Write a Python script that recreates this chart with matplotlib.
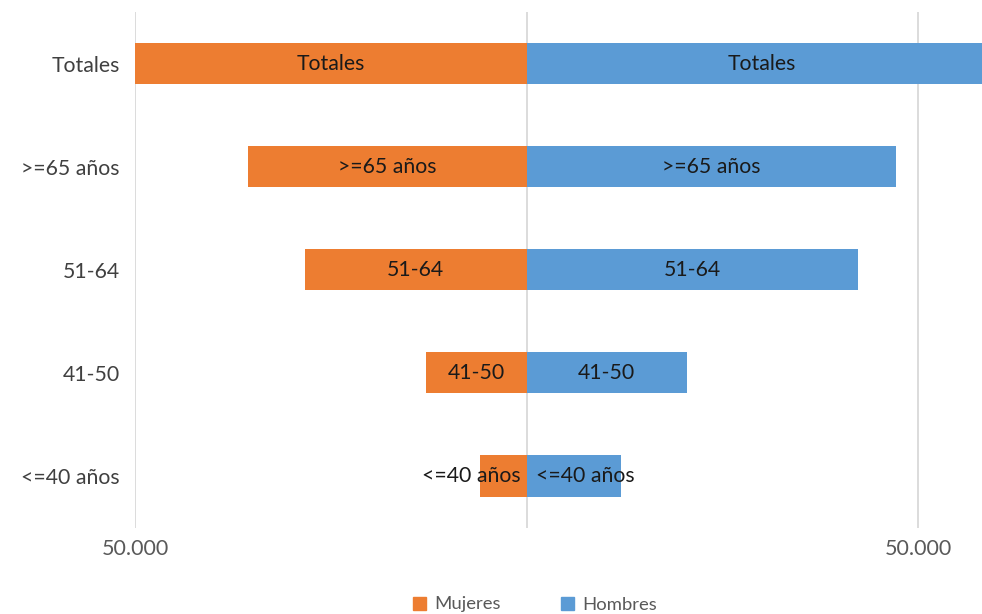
import matplotlib
matplotlib.use("Agg")
import matplotlib.pyplot as plt
from matplotlib.ticker import FuncFormatter
from matplotlib.patches import Patch
from matplotlib.transforms import offset_copy

categories = ["Totales", ">=65 años", "51-64", "41-50", "<=40 años"]
mujeres = [50000, 35600, 28300, 12800, 6000]
hombres = [60000, 47200, 42300, 20500, 12100]
series_names = ["Mujeres", "Hombres"]

plt.rcParams['font.family'] = ['Lato', 'DejaVu Sans']

fig = plt.figure(figsize=(9.82, 6.14), dpi=100)
ax = fig.add_axes([135/982, 1-527.5/614, 1-135/982, (527.5-12)/614])

orange = "#ED7D31"
blue = "#5B9BD5"
ypos = list(range(len(categories)))
h = 0.4

ax.barh(ypos, [-m for m in mujeres], height=h, color=orange, zorder=2)
ax.barh(ypos, hombres, height=h, color=blue, zorder=2)

ax.set_xlim(-50000, 58163)
lab_kw = dict(va="center", fontsize=15.3, color="#1a1a1a", zorder=3, clip_on=False)
tr_left = offset_copy(ax.transData, fig=fig, x=-6, y=0, units="dots")
tr_right = offset_copy(ax.transData, fig=fig, x=9, y=0, units="dots")
for y, cat, m, hv in zip(ypos, categories, mujeres, hombres):
    if m < 10000:
        ax.text(0, y, cat, ha="right", transform=tr_left, **lab_kw)
    else:
        ax.text(-m/2, y, cat, ha="center", **lab_kw)
    if hv < 15000:
        ax.text(0, y, cat, ha="left", transform=tr_right, **lab_kw)
    else:
        ax.text(hv/2, y, cat, ha="center", **lab_kw)

ax.set_ylim(len(categories)-0.5, -0.5)
ax.set_yticks(ypos)
ax.set_yticklabels(categories, fontsize=15.3, color="#404040")
ax.set_xticks([-50000, 0, 50000])
ax.xaxis.set_major_formatter(FuncFormatter(lambda v, p: "" if v == 0 else f"{abs(int(v)):,}".replace(",", ".")))
ax.tick_params(axis="x", labelsize=15.5, labelcolor="#595959", length=0, pad=8)
ax.tick_params(axis="y", length=0, pad=11)
ax.grid(axis="x", color="#D9D9D9", linewidth=1.3, zorder=0)
for s in ax.spines.values():
    s.set_visible(False)

handles = [Patch(color=orange), Patch(color=blue)]
fig.legend(handles, series_names, loc="center", bbox_to_anchor=(535/982, 1-604.5/614), ncol=2,
           frameon=False, fontsize=13.3, labelcolor="#595959", handlelength=0.7, handleheight=0.7,
           handletextpad=0.45, columnspacing=3.3)

fig.savefig("out.png", dpi=100)
